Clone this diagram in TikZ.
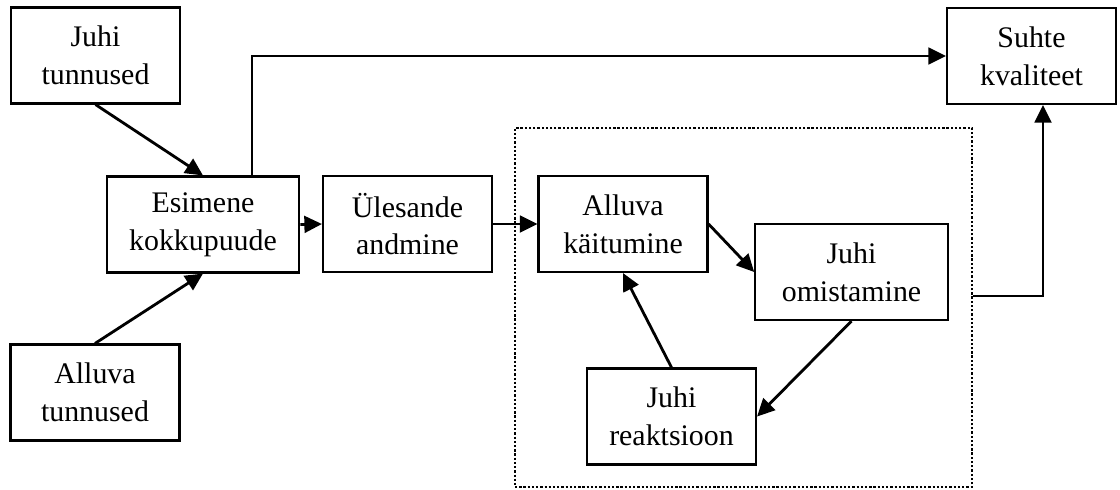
\documentclass[tikz,border=0pt]{standalone}
\usepackage{fontspec}
\setmainfont{Liberation Serif}
\usepackage{tikz}
\usetikzlibrary{arrows.meta, positioning}
\tikzset{
  blok/.style={draw=black, line width=1.2pt, fill=white, align=center,
               minimum width=3.38cm, minimum height=1.92cm, inner sep=2pt,
               font=\fontsize{17pt}{21.5pt}\selectfont},
  laiblok/.style={blok, minimum width=3.85cm},
  punktkast/.style={draw=black, line width=1.3pt, dash pattern=on 1.3pt off 1.1pt,
                    minimum width=9.14cm, minimum height=7.18cm, inner sep=0pt},
  arr/.style={-{Triangle[length=10pt, width=9.5pt]}, line width=1.6pt, black},
}

\begin{document}
\begin{tikzpicture}
  \useasboundingbox (0,0) rectangle (22.4,-9.78);
  % vasak pool
  \node[blok] (jt) at (1.91, -1.11) {Juhi\\tunnused};
  \node[blok] (at) at (1.90, -7.85) {Alluva\\tunnused};
  \node[laiblok] (ek) at (4.06, -4.49) {Esimene\\kokkupuude};
  \node[blok] (ua) at (8.15, -4.48) {Ülesande\\andmine};
  % punktiirkast ja tsükkel
  \node[punktkast] (kast) at (14.87, -6.15) {};
  \node[blok] (ak) at (12.46, -4.48) {Alluva\\käitumine};
  \node[laiblok] (jo) at (17.03, -5.44) {Juhi\\omistamine};
  \node[blok] (jr) at (13.43, -8.33) {Juhi\\reaktsioon};
  % paremal
  \node[blok] (sk) at (20.63, -1.12) {Suhte\\kvaliteet};

  \draw[arr] (jt.south) -- (ek.north);
  \draw[arr] (at.north) -- (ek.south);
  \draw[arr] (ek.east) -- (ua.west);
  \draw[arr] ([xshift=0.98cm]ek.north) |- (sk.west);
  \draw[arr] (ua.east) -- (ak.west);
  \draw[arr] (ak.east) -- (jo.west);
  \draw[arr] (jo.south) -- (jr.east);
  \draw[arr] (jr.north) -- (ak.south);
  \draw[arr] ([yshift=0.23cm]kast.east) -| ([xshift=0.23cm]sk.south);
\end{tikzpicture}
\end{document}
